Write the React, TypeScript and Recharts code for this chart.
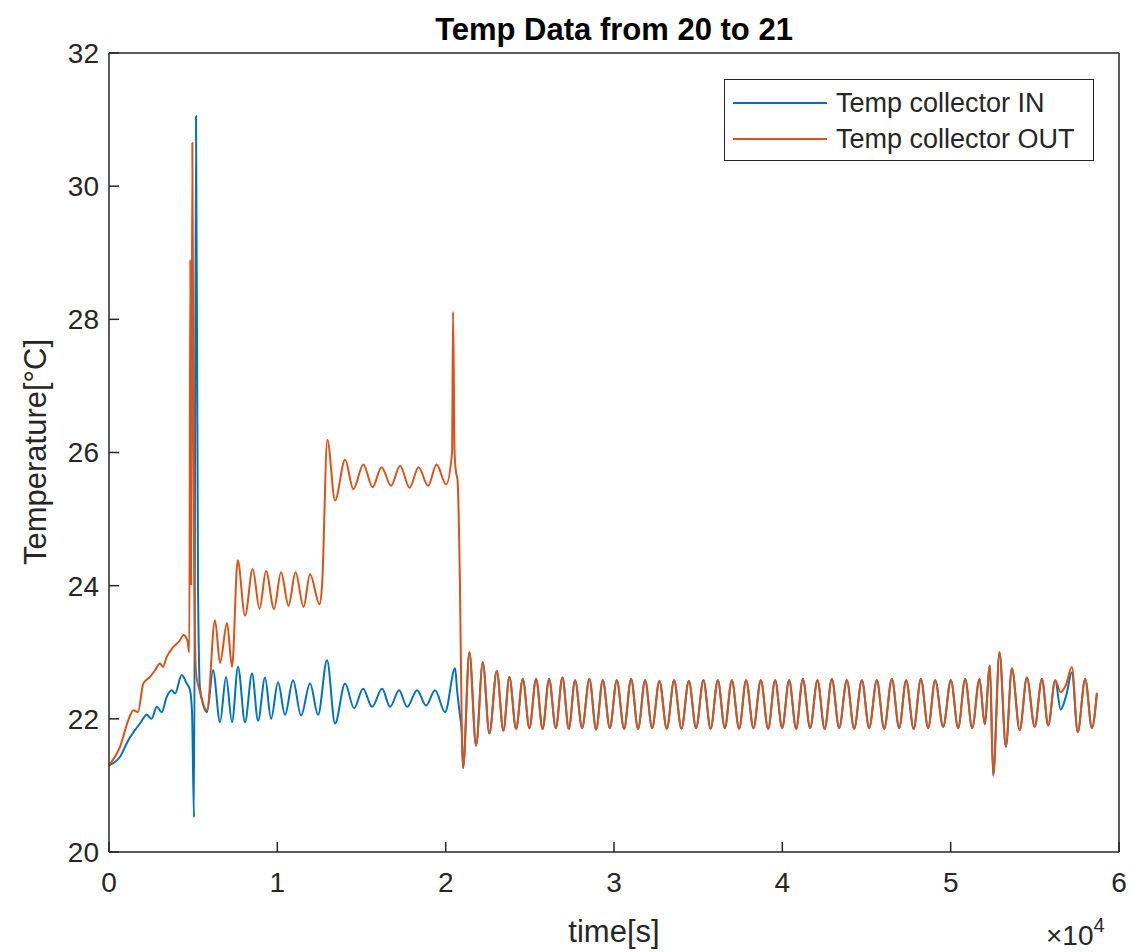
import React from "react"
import { LineChart, Line, XAxis, YAxis, Legend } from "recharts"

// Temp collector IN, before the two curves merge (time in s, temp in °C)
const inTime = [
  0, 654, 1147, 1426, 1842, 2240, 2537, 2834, 3131, 3428, 3726, 3922, 4320, 4617, 4813,
  4932, 5051, 5169, 5288, 5407, 5823, 6180, 6596, 6952, 7309, 7665, 8081, 8497, 8854, 9270,
  9626, 10042, 10458, 10933, 11409, 11943, 12419, 12953, 13429, 14023, 14558, 15093, 15627,
  16222, 16697, 17232, 17707, 18301, 18836, 19371, 19965, 20560, 20678, 20850, 20960,
]
const inTemp = [
  21.3, 21.43, 21.68, 21.79, 21.93, 22.06, 22.0, 22.18, 22.1, 22.33, 22.43, 22.38, 22.66, 22.53, 22.43,
  22.1, 20.52, 31.05, 24.0, 22.45, 22.1, 22.73, 21.95, 22.63, 21.95, 22.78, 21.95, 22.68, 21.97, 22.62,
  22.0, 22.55, 22.06, 22.58, 22.05, 22.53, 22.06, 22.88, 21.93, 22.53, 22.16, 22.45, 22.18,
  22.45, 22.18, 22.43, 22.18, 22.43, 22.2, 22.43, 22.1, 22.76, 22.43, 22.05, 21.8,
]

// Temp collector OUT, before the two curves merge
const outTime = [
  0, 654, 1147, 1444, 1723, 2038, 2436, 2733, 3030, 3209, 3428, 3821, 4219, 4415, 4652,
  4771, 4831, 4884, 4950, 5051, 5169, 5407, 5823, 6298, 6596, 7011, 7309, 7647, 8081, 8538,
  8942, 9329, 9804, 10220, 10666, 11082, 11557, 11943, 12508, 12656, 12971, 13429, 14023, 14516,
  15110, 15657, 16192, 16756, 17291, 17856, 18390, 18955, 19460, 20024, 20380, 20440, 20529,
  20618, 20700, 20850, 20960,
]
const outTemp = [
  21.3, 21.58, 21.98, 22.13, 22.1, 22.53, 22.63, 22.73, 22.83, 22.78, 22.93, 23.08, 23.18, 23.26, 23.18,
  23.0, 28.9, 24.0, 30.65, 24.5, 22.7, 22.4, 22.13, 23.48, 22.84, 23.44, 22.78, 24.38, 23.55, 24.25,
  23.65, 24.22, 23.65, 24.2, 23.7, 24.2, 23.68, 24.17, 23.72, 24.0, 26.19, 25.28, 25.89, 25.45,
  25.82, 25.48, 25.78, 25.5, 25.8, 25.47, 25.78, 25.5, 25.82, 25.52, 26.0, 28.11, 26.0,
  25.7, 25.6, 24.0, 21.8,
]

// after ~2.1e4 s both sensors read the same
const sharedTime = [
  21035, 21409, 21807, 22205, 22597, 23037, 23429, 23785, 24183, 24582,
  24974, 25372, 25758, 26144, 26542, 26935, 27315, 27689, 28105, 28539,
  28937, 29335, 29751, 30167, 30600, 31016, 31432, 31848, 32264, 32698,
  33138, 33571, 34005, 34445, 34878, 35312, 35740, 36168, 36584, 37000,
  37433, 37849, 38283, 38723, 39157, 39573, 39989, 40404, 40820, 41218,
  41652, 42086, 42514, 42942, 43375, 43833, 44266, 44724, 45158, 45615,
  46049, 46507, 46940, 47356, 47802, 48230, 48663, 49079, 49555, 50012,
  50446, 50862, 51278, 51712, 52021, 52330, 52526, 52901, 53281, 53637,
  54101, 54528, 54992, 55420, 55794, 56210,
]
const sharedTemp = [
  21.26, 23.0, 21.6, 22.85, 21.78, 22.72, 21.82, 22.63, 21.85, 22.6,
  21.86, 22.6, 21.85, 22.6, 21.86, 22.62, 21.85, 22.58, 21.86, 22.6,
  21.84, 22.58, 21.86, 22.58, 21.85, 22.6, 21.85, 22.58, 21.86, 22.57,
  21.85, 22.58, 21.85, 22.57, 21.86, 22.58, 21.85, 22.58, 21.86, 22.58,
  21.85, 22.58, 21.86, 22.58, 21.85, 22.58, 21.86, 22.58, 21.85, 22.6,
  21.86, 22.58, 21.85, 22.6, 21.86, 22.58, 21.85, 22.58, 21.86, 22.58,
  21.85, 22.6, 21.86, 22.58, 21.85, 22.6, 21.86, 22.58, 21.88, 22.58,
  21.86, 22.6, 21.86, 22.6, 21.92, 22.8, 21.15, 23.0, 21.58, 22.76,
  21.83, 22.62, 21.88, 22.6, 21.9, 22.58,
]

// last few samples, where the curves split briefly
const inEndTime = [56536, 56863, 57202, 57546, 57992, 58390, 58687]
const inEndTemp = [22.14, 22.35, 22.7, 21.8, 22.6, 21.86, 22.39]
const outEndTime = [56536, 56833, 57202, 57546, 57992, 58390, 58687]
const outEndTemp = [22.4, 22.5, 22.78, 21.8, 22.6, 21.86, 22.39]

const xTicks = [0, 10000, 20000, 30000, 40000, 50000, 60000]
const yTicks = [20, 22, 24, 26, 28, 30, 32]

const BLUE = "#0072BD"
const ORANGE = "#D95319"
const AXIS = "#262626"
const FONT = '"Liberation Sans", Arial, Helvetica, sans-serif'

const pts = (t: number[], v: number[]) => t.map((x, i) => ({ t: x, v: v[i] }))

const inData = [...pts(inTime, inTemp), ...pts(sharedTime, sharedTemp), ...pts(inEndTime, inEndTemp)]
const outData = [...pts(outTime, outTemp), ...pts(sharedTime, sharedTemp), ...pts(outEndTime, outEndTemp)]

const series = [
  { name: "Temp collector IN", color: BLUE },
  { name: "Temp collector OUT", color: ORANGE },
]

function LegendBox() {
  return (
    <div
      style={{
        width: 370,
        height: 82,
        boxSizing: "border-box",
        border: `1.5px solid ${AXIS}`,
        background: "#fff",
        fontFamily: FONT,
        fontSize: 27,
        color: AXIS,
        paddingTop: 5,
      }}
    >
      {series.map((s) => (
        <div key={s.name} style={{ display: "flex", alignItems: "center", height: 36 }}>
          <div style={{ width: 94, height: 2, background: s.color, marginLeft: 8, marginRight: 9 }} />
          <span style={{ whiteSpace: "nowrap" }}>{s.name}</span>
        </div>
      ))}
    </div>
  )
}

export default function App() {
  const tickStyle = { fill: AXIS, fontSize: 28, fontFamily: FONT }
  const axisLine = { stroke: AXIS, strokeWidth: 1.5 }
  return (
    <div style={{ position: "absolute", left: 0, top: 0, width: 1132, height: 952, background: "#fff", fontFamily: FONT }}>
      <div
        style={{
          position: "absolute",
          left: 109,
          width: 1010,
          top: 12,
          textAlign: "center",
          fontSize: 31,
          fontWeight: "bold",
          lineHeight: "36px",
          color: "#000",
        }}
      >
        Temp Data from 20 to 21
      </div>

      <LineChart width={1132} height={952} margin={{ top: 52, right: 12, bottom: 99, left: 108 }}>
        <XAxis
          xAxisId="b"
          type="number"
          dataKey="t"
          domain={[0, 60000]}
          ticks={xTicks}
          tickFormatter={(v) => String(v / 10000)}
          height={1}
          tickSize={-10}
          tickMargin={30}
          tick={tickStyle}
          axisLine={axisLine}
          tickLine={axisLine}
          interval={0}
        />
        <XAxis
          xAxisId="top"
          orientation="top"
          type="number"
          dataKey="t"
          domain={[0, 60000]}
          ticks={xTicks}
          tickFormatter={() => ""}
          height={1}
          tickSize={-10}
          axisLine={axisLine}
          tickLine={axisLine}
          interval={0}
        />
        <YAxis
          yAxisId="l"
          type="number"
          domain={[20, 32]}
          ticks={yTicks}
          width={1}
          tickSize={-10}
          tickMargin={20}
          tick={tickStyle}
          axisLine={axisLine}
          tickLine={axisLine}
          interval={0}
        />
        <YAxis
          yAxisId="r"
          orientation="right"
          type="number"
          domain={[20, 32]}
          ticks={yTicks}
          tickFormatter={() => ""}
          width={1}
          tickSize={-10}
          axisLine={axisLine}
          tickLine={axisLine}
          interval={0}
        />
        <Line
          xAxisId="b"
          yAxisId="l"
          data={inData}
          dataKey="v"
          name={series[0].name}
          type="monotone"
          stroke={BLUE}
          strokeWidth={2}
          dot={false}
          isAnimationActive={false}
        />
        <Line
          xAxisId="b"
          yAxisId="l"
          data={outData}
          dataKey="v"
          name={series[1].name}
          type="monotone"
          stroke={ORANGE}
          strokeWidth={2}
          dot={false}
          isAnimationActive={false}
        />
        <Legend
          layout="vertical"
          align="center"
          verticalAlign="middle"
          content={() => <LegendBox />}
          wrapperStyle={{ left: 724, top: 79, width: 370, height: 82 }}
        />
      </LineChart>

      <div
        style={{
          position: "absolute",
          left: 36,
          top: 452,
          transform: "translate(-50%, -50%) rotate(-90deg)",
          whiteSpace: "nowrap",
          fontSize: 31,
          color: AXIS,
        }}
      >
        Temperature[°C]
      </div>
      <div
        style={{
          position: "absolute",
          left: 109,
          width: 1010,
          top: 914,
          textAlign: "center",
          fontSize: 31,
          lineHeight: "36px",
          color: AXIS,
        }}
      >
        time[s]
      </div>
      <div style={{ position: "absolute", left: 1046, top: 920, fontSize: 28, lineHeight: "32px", color: AXIS, whiteSpace: "nowrap" }}>
        ×10<span style={{ fontSize: 20, position: "relative", top: -13 }}>4</span>
      </div>
    </div>
  )
}
